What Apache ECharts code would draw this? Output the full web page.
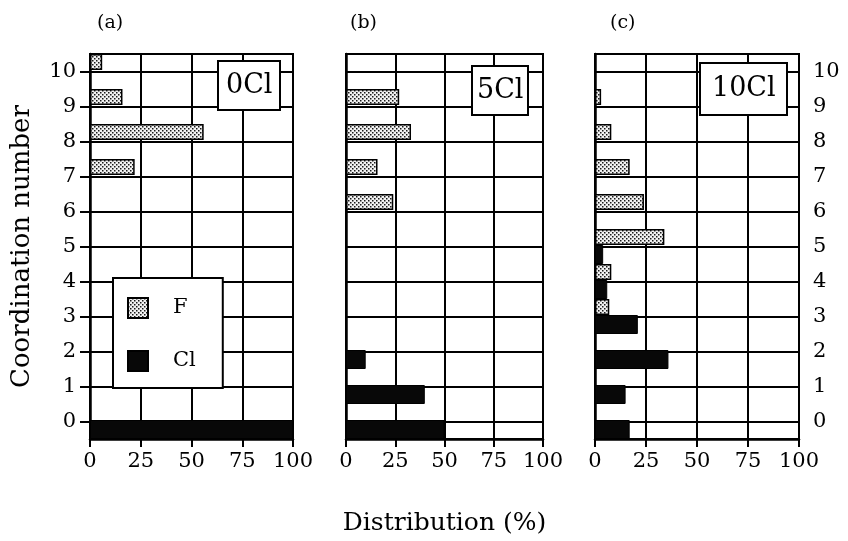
<!DOCTYPE html>
<html>
<head>
<meta charset="utf-8">
<script src="https://cdn.jsdelivr.net/npm/echarts@6/dist/echarts.min.js"></script>
<style>
  html, body { margin: 0; padding: 0; background: #fff; }
  #chart { width: 848px; height: 541px; }
</style>
</head>
<body>
<div id="chart"></div>
<script>
// Coordination numbers shown on the vertical axis (bottom to top)
const coordination = ['0', '1', '2', '3', '4', '5', '6', '7', '8', '9', '10'];
const distTicks = [0, 25, 50, 75, 100];
const panelNames = ['0Cl', '5Cl', '10Cl'];
const panelTags = ['(a)', '(b)', '(c)'];

// Distribution (%) of F and Cl neighbours per coordination number, index = coordination number
const F_0Cl  = [null, null, null, null, null, null, null, 22, 56, 16, 6];
const Cl_0Cl = [100, null, null, null, null, null, null, null, null, null, null];
const F_5Cl  = [null, null, null, null, null, null, 24, 16, 33, 27, null];
const Cl_5Cl = [50, 40, 10, null, null, null, null, null, null, null, null];
const F_10Cl  = [null, null, null, 7, 8, 34, 24, 17, 8, 3, null];
const Cl_10Cl = [17, 15, 36, 21, 6, 4, null, null, null, null, null];

const fSets = [F_0Cl, F_5Cl, F_10Cl];
const clSets = [Cl_0Cl, Cl_5Cl, Cl_10Cl];

const FONT = 'DejaVu Serif';

// Stippled fill used for the F bars
function dotPattern() {
  const c = document.createElement('canvas');
  c.width = 4; c.height = 4;
  const g = c.getContext('2d');
  g.fillStyle = '#f2f2f2';
  g.fillRect(0, 0, 4, 4);
  g.fillStyle = '#1a1a1a';
  g.fillRect(0, 0, 1.5, 1.5);
  g.fillRect(2, 2, 1.5, 1.5);
  return { image: c, repeat: 'repeat' };
}
const fFill = dotPattern();

const grids = [
  { left: 90, top: 54, width: 203, height: 385 },
  { left: 346, top: 54, width: 197, height: 385 },
  { left: 595, top: 54, width: 204, height: 385 }
].map(g => Object.assign(g, { show: true, borderColor: '#000', borderWidth: 2, backgroundColor: 'transparent' }));

const xAxes = grids.map((g, i) => ({
  type: 'value', gridIndex: i, min: 0, max: 100, interval: 25,
  axisLine: { show: true, lineStyle: { color: '#000', width: 2.5 } },
  axisTick: { show: true, inside: false, length: 8, lineStyle: { color: '#000', width: 2 } },
  axisLabel: {
    color: '#000', fontFamily: FONT, fontSize: 21, margin: 12,
    customValues: distTicks
  },
  splitLine: { show: true, lineStyle: { color: '#000', width: 2 } },
  name: i === 1 ? 'Distribution (%)' : '',
  nameLocation: 'middle', nameGap: 72,
  nameTextStyle: { color: '#000', fontFamily: FONT, fontSize: 25 }
}));

const yAxes = grids.map((g, i) => {
  const outer = i === 0 || i === 2;
  return {
    type: 'category', gridIndex: i, data: coordination,
    position: i === 2 ? 'right' : 'left',
    axisLine: { show: true, lineStyle: { color: '#000', width: 2.5 } },
    axisTick: { show: outer, alignWithLabel: true, inside: false, length: 10, lineStyle: { color: '#000', width: 2 } },
    axisLabel: { show: outer, color: '#000', fontFamily: FONT, fontSize: 21, margin: 14 },
    splitLine: { show: true, alignWithLabel: true, lineStyle: { color: '#000', width: 2 } },
    name: i === 0 ? 'Coordination number' : '',
    nameLocation: 'middle', nameGap: 55, nameRotate: 90,
    nameTextStyle: { color: '#000', fontFamily: FONT, fontSize: 26 }
  };
});

const series = [];
grids.forEach((g, i) => {
  series.push({
    name: 'F', type: 'bar', xAxisIndex: i, yAxisIndex: i,
    data: fSets[i], barWidth: 16, barGap: '0%',
    itemStyle: { color: fFill, borderColor: '#000', borderWidth: 1.5 },
    emphasis: { disabled: true }, silent: true, animation: false
  });
  series.push({
    name: 'Cl', type: 'bar', xAxisIndex: i, yAxisIndex: i,
    data: clSets[i], barWidth: 19, barGap: '0%',
    itemStyle: { color: '#080808', borderColor: '#000', borderWidth: 1 },
    emphasis: { disabled: true }, silent: true, animation: false
  });
});

// Composition boxes in the upper right of each panel
const boxPos = [
  { left: 218, top: 61, padding: [9, 8, 8, 8] },
  { left: 472, top: 66, padding: [9, 5, 8, 5] },
  { left: 700, top: 63, padding: [10, 12, 10, 12] }
];
const titles = panelNames.map((n, i) => ({
  text: n, left: boxPos[i].left, top: boxPos[i].top, padding: boxPos[i].padding,
  backgroundColor: '#fff', borderColor: '#000', borderWidth: 2,
  textStyle: { color: '#000', fontFamily: FONT, fontSize: 27, fontWeight: 'normal', lineHeight: 32 }
}));
const tagLeft = [97, 350, 610];
panelTags.forEach((t, i) => titles.push({
  text: t, left: tagLeft[i], top: 14, padding: 0,
  textStyle: { color: '#000', fontFamily: FONT, fontSize: 19, fontWeight: 'normal' }
}));

const chart = echarts.init(document.getElementById('chart'), null, { renderer: 'canvas' });
chart.setOption({
  animation: false,
  backgroundColor: '#fff',
  title: titles,
  grid: grids,
  xAxis: xAxes,
  yAxis: yAxes,
  legend: {
    data: ['F', 'Cl'], orient: 'vertical', left: 113, top: 278,
    itemWidth: 20, itemHeight: 20, itemGap: 31,
    padding: [19, 27, 16, 14],
    backgroundColor: '#fff', borderColor: '#000', borderWidth: 2,
    icon: 'rect', selectedMode: false,
    textStyle: { color: '#000', fontFamily: FONT, fontSize: 21, lineHeight: 20, padding: [0, 0, 0, 20] }
  },
  series: series
});
</script>
</body>
</html>
